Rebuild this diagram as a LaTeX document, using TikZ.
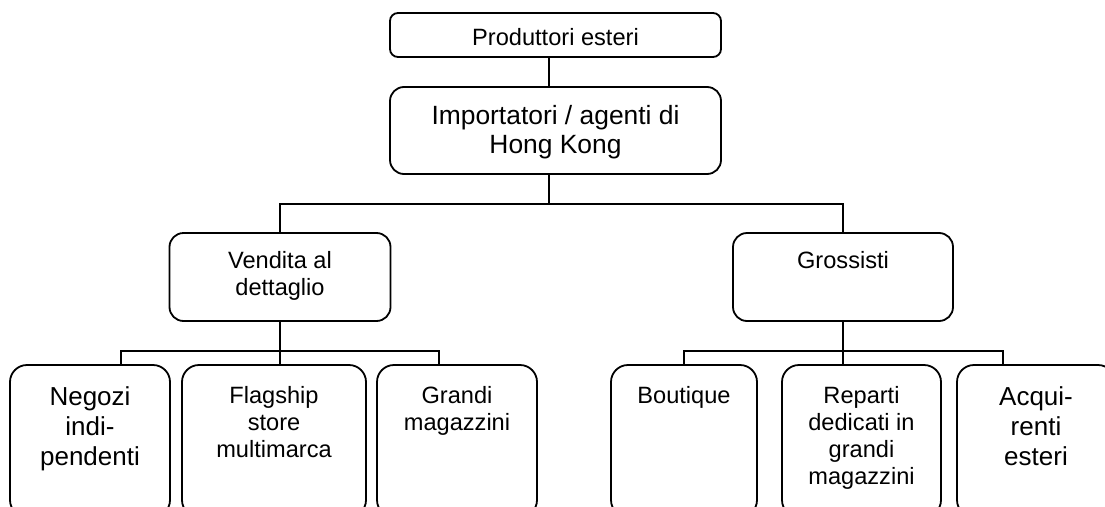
\documentclass[tikz,border=0pt]{standalone}
\usepackage{fontspec}
\setmainfont{Liberation Sans}
\usepackage{tikz}
\usetikzlibrary{positioning}

\begin{document}
\begin{tikzpicture}[
    x=1pt, y=-1pt,
    box_style/.style={draw, line width=1.8pt, rounded corners=#1, inner sep=0pt},
    box_style/.default=14pt,
    leaf_style/.style={box_style=17pt, minimum height=152pt},
    text_style/.style={font=\fontsize{23.6}{27}\selectfont, align=center, inner sep=0pt},
    big_text/.style={text_style, font=\fontsize{26}{30}\selectfont},
    line_style/.style={line width=1.5pt}
]
    \useasboundingbox[fill=white] (0,0) rectangle (1105,506);
    \clip (0,0) rectangle (1105,506);

    % Boxes
    \node[box_style=8pt, minimum width=331pt, minimum height=44pt] (prod) at (555.5,35) {};
    \node[box_style, minimum width=331pt, minimum height=87pt] (imp) at (555.5,130.5) {};
    \node[box_style, minimum width=221pt, minimum height=88pt] (vend) at (280,277) {};
    \node[box_style, minimum width=220pt, minimum height=88pt] (gross) at (843,277) {};

    \node[leaf_style, minimum width=160pt] (negozi) at (90,441) {};
    \node[leaf_style, minimum width=184pt] (flag) at (274,441) {};
    \node[leaf_style, minimum width=160pt] (grandi) at (457,441) {};
    \node[leaf_style, minimum width=146pt] (bout) at (684,441) {};
    \node[leaf_style, minimum width=159pt] (rep) at (861.5,441) {};
    \node[leaf_style, minimum width=158pt] (acq) at (1036,441) {};

    % Texts
    \node[text_style, below=16pt of prod.north] (prod_t) {Produttori esteri};
    \node[big_text, font=\fontsize{26.4}{29}\selectfont, below=19pt of imp.north] (imp_t) {Importatori / agenti di\\Hong Kong};
    \node[text_style, below=19pt of vend.north] (vend_t) {Vendita al\\dettaglio};
    \node[text_style, below=19pt of gross.north] (gross_t) {Grossisti};

    \node[big_text, below=22pt of negozi.north] (negozi_t) {Negozi\\indi-\\pendenti};
    \node[text_style, below=22pt of flag.north] (flag_t) {Flagship\\store\\multimarca};
    \node[text_style, below=22pt of grandi.north] (grandi_t) {Grandi\\magazzini};
    \node[text_style, below=22pt of bout.north] (bout_t) {Boutique};
    \node[text_style, below=22pt of rep.north] (rep_t) {Reparti\\dedicati in\\grandi\\magazzini};
    \node[big_text, below=22pt of acq.north] (acq_t) {Acqui-\\renti\\esteri};

    % Connectors
    \coordinate (top_bus) at (549,204);
    \coordinate (left_bus) at (280,351);
    \coordinate (right_bus) at (843,351);
    \coordinate (drop_a) at (121,351);
    \coordinate (drop_c) at (439,351);
    \coordinate (drop_f) at (1003,351);

    \draw[line_style] (prod.south -| top_bus) -- (imp.north -| top_bus);
    \draw[line_style] (imp.south -| top_bus) -- (top_bus);
    \draw[line_style] (vend.north) |- (top_bus) -| (gross.north);

    \draw[line_style] (vend.south) -- (left_bus);
    \draw[line_style] (negozi.north -| drop_a) -- (drop_a) -- (drop_c) -- (grandi.north -| drop_c);
    \draw[line_style] (left_bus) -- (flag.north -| left_bus);

    \draw[line_style] (gross.south) -- (right_bus);
    \draw[line_style] (bout.north) |- (drop_f) -- (acq.north -| drop_f);
    \draw[line_style] (right_bus) -- (rep.north -| right_bus);
\end{tikzpicture}
\end{document}
